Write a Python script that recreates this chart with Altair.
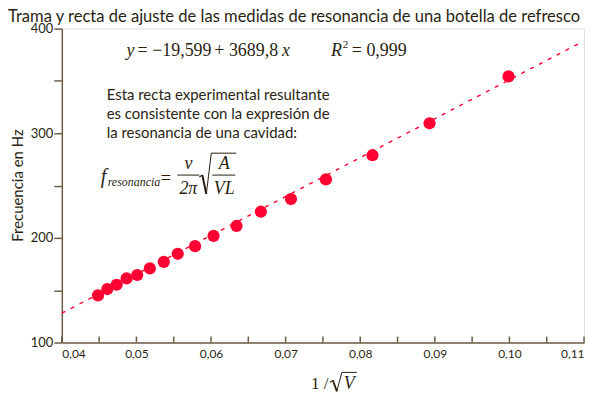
import altair as alt
import pandas as pd

# Measured data (1/sqrt(V), frequency in Hz)
inv_sqrt_v = [0.04485, 0.04610, 0.04735, 0.04868, 0.05011, 0.05180, 0.05367,
              0.05554, 0.05786, 0.06034, 0.06342, 0.06668, 0.07072, 0.07540,
              0.08164, 0.08929, 0.09988]
freq_hz = [145.0, 151.1, 155.2, 161.2, 164.5, 170.8, 177.1, 184.8, 192.1,
           201.9, 211.4, 225.0, 237.1, 255.9, 279.0, 309.5, 354.3]

# Fit line endpoints (as drawn)
fit_x = [0.040, 0.1095]
fit_y = [128.0, 386.4]

# axis tick positions
x_ticks = [0.040, 0.045, 0.050, 0.055, 0.060, 0.065, 0.070, 0.075, 0.080,
           0.085, 0.090, 0.095, 0.100, 0.105, 0.110]
x_labels = [0.04, 0.05, 0.06, 0.07, 0.08, 0.09, 0.10, 0.11]
y_ticks = [100, 150, 200, 250, 300, 350, 400]

W, H = 524, 315
OX, OY = 62, 28  # page position of plot origin

AXIS_COL = "#6e5d47"
TXT = "#2a1f12"
RED = "#ff0033"
SERIF = "Liberation Serif"
SANS = "Lato"

pts = pd.DataFrame({"x": inv_sqrt_v, "y": freq_hz})
fit = pd.DataFrame({"x": fit_x, "y": fit_y})
xt = pd.DataFrame({"x": x_ticks})

xs = alt.Scale(domain=[0.04, 0.11], nice=False, zero=False)
ys = alt.Scale(domain=[100, 400], nice=False, zero=False)

x_axis = alt.Axis(values=x_labels,
                  labelExpr="replace(format(datum.value, '.2f'), '.', ',')",
                  tickSize=0, labelPadding=6, grid=False,
                  domainColor=AXIS_COL, domainWidth=1.5,
                  labelColor=TXT, labelFont=SANS, labelFontSize=12,
                  title=None)
y_axis = alt.Axis(values=y_ticks,
                  labelExpr="datum.value % 100 == 0 ? datum.label : ''",
                  tickSize=8, tickColor=AXIS_COL, tickWidth=1.5, labelPadding=1,
                  grid=False, domainColor=AXIS_COL, domainWidth=1.5,
                  labelColor=TXT, labelFont=SANS, labelFontSize=13,
                  title="Frecuencia en Hz", titleFont=SANS, titleFontSize=15,
                  titleFontWeight="normal", titleColor=TXT,
                  titleX=-44, titleY=157, titleAngle=270,
                  titleBaseline="middle", titleAlign="center")

line = alt.Chart(fit).mark_line(color=RED, strokeWidth=1.4, strokeDash=[4, 6]).encode(
    x=alt.X("x:Q", scale=xs, axis=x_axis),
    y=alt.Y("y:Q", scale=ys, axis=y_axis),
)

points = alt.Chart(pts).mark_circle(size=150, color=RED, opacity=1).encode(
    x=alt.X("x:Q", scale=xs),
    y=alt.Y("y:Q", scale=ys),
)

ticks = alt.Chart(xt).mark_rule(color=AXIS_COL, strokeWidth=1.5).encode(
    x=alt.X("x:Q", scale=xs),
    y=alt.value(H - 6),
    y2=alt.value(H),
)

def txt(s, px, py, size, font=SERIF, style="normal", align="left"):
    return alt.Chart(pd.DataFrame({"t": [s]})).mark_text(
        font=font, fontSize=size, fontStyle=style, color=TXT,
        align=align, baseline="alphabetic"
    ).encode(text="t:N", x=alt.value(px - OX), y=alt.value(py - OY))

def seg(x1, y1, x2, y2, w=1.0):
    return alt.Chart(pd.DataFrame({"a": [0]})).mark_rule(color=TXT, strokeWidth=w).encode(
        x=alt.value(x1 - OX), x2=alt.value(x2 - OX),
        y=alt.value(y1 - OY), y2=alt.value(y2 - OY))

annots = [
    # regression equation
    txt("y", 127, 56, 18, style="italic"),
    txt("= −19,599", 138, 56, 18),
    txt("+ 3689,8", 215, 56, 18),
    txt("x", 283, 56, 18, style="italic"),
    txt("R", 332, 56, 18, style="italic"),
    txt("2", 344, 47, 11),
    txt("= 0,999", 353, 56, 18),
    # explanation
    txt("Esta recta experimental resultante", 107, 100, 15, font=SANS),
    txt("es consistente con la expresión de", 107, 119, 15, font=SANS),
    txt("la resonancia de una cavidad:", 107, 138, 15, font=SANS),
    # resonance formula
    txt("f", 101, 183, 20, style="italic"),
    txt("resonancia", 108, 186, 12, style="italic"),
    txt("=", 161, 184, 19),
    txt("v", 189, 169, 18, style="italic", align="center"),
    seg(178, 175, 200, 175),
    txt("2π", 189, 194, 18, style="italic", align="center"),
    seg(200, 177, 203, 175, 1.2),
    seg(203, 175, 207, 194, 2.0),
    seg(207, 194, 212, 153, 1.0),
    seg(212, 153, 237, 153, 1.0),
    txt("A", 225, 169, 18, style="italic", align="center"),
    seg(213, 175, 236, 175),
    txt("VL", 225, 194, 18, style="italic", align="center"),
    # x-axis title: 1 / sqrt(V)
    txt("1 /", 312, 390, 17),
    seg(331, 383, 334, 381, 1.2),
    seg(334, 381, 338, 392, 1.8),
    seg(338, 392, 343, 373, 1.0),
    seg(343, 373, 358, 373, 1.0),
    txt("V", 345, 390, 18, style="italic"),
]

chart = alt.layer(line, ticks, points, *annots).properties(
    width=W, height=H,
    title=alt.TitleParams(
        "Trama y recta de ajuste de las medidas de resonancia de una botella de refresco",
        font=SANS, fontSize=16.6, fontWeight="normal", color=TXT,
        anchor="start", frame="group", dx=-54, dy=3, offset=0
    ),
    autosize=alt.AutoSizeParams(type="none"),
    padding={"left": OX - 8, "top": OY - 8, "right": 8, "bottom": 50},
).configure_view(stroke=None).configure(background="white")

chart.save("out.html", embed_options={"renderer": "svg", "actions": False})
